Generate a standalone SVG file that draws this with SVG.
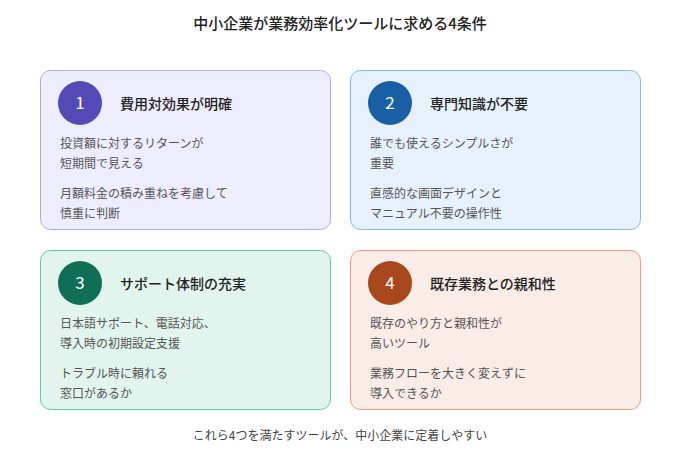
<svg xmlns="http://www.w3.org/2000/svg" width="680" height="460" viewBox="0 0 680 460">
<style>
text{font-family:"Noto Sans CJK JP","Noto Sans",sans-serif}
.h{font-size:15px;fill:#222;font-weight:500}
.t{font-size:14px;fill:#222;font-weight:500}
.b{font-size:12px;fill:#555}
.n{font-size:17px;fill:#fff;text-anchor:middle}
</style>
<rect width="680" height="460" fill="#fff"/>
<text x="340" y="29" class="h" text-anchor="middle">中小企業が業務効率化ツールに求める4条件</text>
<g id="card1">
<rect x="40.5" y="70.5" width="290" height="159" rx="10" fill="#EEEDFE" stroke="#AFA9EC"/>
<circle cx="80" cy="103" r="22" fill="#534AB7"/>
<text x="80" y="109" class="n">1</text>
<text x="120" y="109" class="t">費用対効果が明確</text>
<text x="60" y="148" class="b">投資額に対するリターンが</text>
<text x="60" y="168" class="b">短期間で見える</text>
<text x="60" y="198" class="b">月額料金の積み重ねを考慮して</text>
<text x="60" y="218" class="b">慎重に判断</text>
</g>
<g id="card2">
<rect x="350.5" y="70.5" width="290" height="159" rx="10" fill="#E6F1FB" stroke="#85B7EB"/>
<circle cx="390" cy="103" r="22" fill="#185FA5"/>
<text x="390" y="109" class="n">2</text>
<text x="430" y="109" class="t">専門知識が不要</text>
<text x="370" y="148" class="b">誰でも使えるシンプルさが</text>
<text x="370" y="168" class="b">重要</text>
<text x="370" y="198" class="b">直感的な画面デザインと</text>
<text x="370" y="218" class="b">マニュアル不要の操作性</text>
</g>
<g id="card3">
<rect x="40.5" y="250.5" width="290" height="159" rx="10" fill="#E1F5EE" stroke="#5DCAA5"/>
<circle cx="80" cy="283" r="22" fill="#0F6E56"/>
<text x="80" y="289" class="n">3</text>
<text x="120" y="289" class="t">サポート体制の充実</text>
<text x="60" y="328" class="b">日本語サポート、電話対応、</text>
<text x="60" y="348" class="b">導入時の初期設定支援</text>
<text x="60" y="378" class="b">トラブル時に頼れる</text>
<text x="60" y="398" class="b">窓口があるか</text>
</g>
<g id="card4">
<rect x="350.5" y="250.5" width="290" height="159" rx="10" fill="#FAECE7" stroke="#F0997B"/>
<circle cx="390" cy="283" r="22" fill="#A9481C"/>
<text x="390" y="289" class="n">4</text>
<text x="430" y="289" class="t">既存業務との親和性</text>
<text x="370" y="328" class="b">既存のやり方と親和性が</text>
<text x="370" y="348" class="b">高いツール</text>
<text x="370" y="378" class="b">業務フローを大きく変えずに</text>
<text x="370" y="398" class="b">導入できるか</text>
</g>
<g id="connectors"/>
<text x="340" y="440" class="b" text-anchor="middle" style="fill:#444">これら4つを満たすツールが、中小企業に定着しやすい</text>
</svg>
